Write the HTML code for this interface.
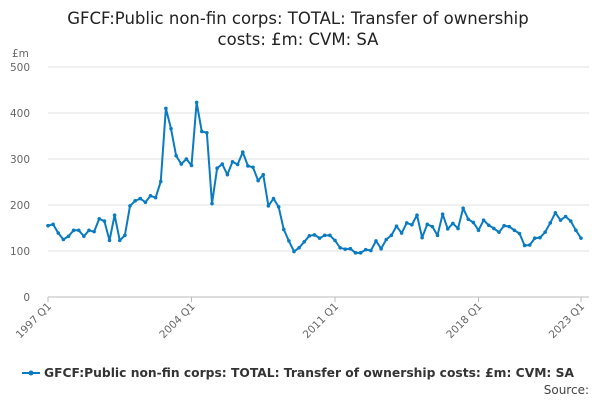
<!DOCTYPE html>
<html><head><meta charset="utf-8"><style>
body{margin:0;background:#fff;font-family:"DejaVu Sans","Liberation Sans",sans-serif}
svg text{font-family:"DejaVu Sans","Liberation Sans",sans-serif}
</style></head><body>
<svg id="chart" width="600" height="400">
<text x="298" y="24" text-anchor="middle" font-size="16.5" fill="#222">GFCF:Public non-fin corps: TOTAL: Transfer of ownership</text>
<text x="298" y="45" text-anchor="middle" font-size="16.5" fill="#222">costs: £m: CVM: SA</text>
<text x="12" y="57" font-size="10.5" fill="#666">£m</text>
<g id="grid"></g><g id="xaxis"></g><g id="series"></g>
<g>
<line x1="22" y1="373" x2="40" y2="373" stroke="#0a7bc1" stroke-width="2"/>
<circle cx="31" cy="373" r="2.5" fill="#0a7bc1"/>
<text x="44" y="377" font-size="12" font-weight="bold" fill="#333" textLength="530" lengthAdjust="spacingAndGlyphs">GFCF:Public non-fin corps: TOTAL: Transfer of ownership costs: £m: CVM: SA</text>
</g>
<text x="589" y="394" text-anchor="end" font-size="12" fill="#444">Source:</text>
</svg>
<script>
const values=[155,158,139,125,132,145,145,132,145,142,170,165,123,178,123,134,198,209,214,206,220,216,251,410,366,307,289,300,286,423,360,357,203,280,289,266,
294,288,315,285,282,253,266,198,214,196,147,122,99,107,120,133,135,128,134,134,123,107,104,105,96,96,103,101,122,105,125,134,154,139,161,
157,178,129,158,153,134,180,148,160,149,193,169,162,145,167,156,149,141,155,153,145,138,112,113,128,129,141,161,183,167,175,165,145,128];
const yTicks=[0,100,200,300,400,500];
const xLabels=["1997 Q1","2004 Q1","2011 Q1","2018 Q1","2023 Q1"];
const xLabelIdx=[0,28,56,84,104];
const NS="http://www.w3.org/2000/svg";
const x0=48,x1=581,yb=297,yt=67;
const xs=i=>x0+i*(x1-x0)/(values.length-1);
const ys=v=>yb-v*(yb-yt)/500;
function mk(t,a,p){const e=document.createElementNS(NS,t);for(const k in a)e.setAttribute(k,a[k]);p.appendChild(e);return e;}
const grid=document.getElementById('grid');
yTicks.forEach(v=>{
 const l=mk('line',{x1:x0,x2:x1+8,y1:ys(v),y2:ys(v),stroke:v===0?'#bbb':'#e0e0e0','stroke-width':1},grid);
 
 
 const t=mk('text',{x:30,y:ys(v)+4,'text-anchor':'end','font-size':10.5,fill:'#666'},grid);
 t.textContent=v;
 
 
});
const xa=document.getElementById('xaxis');
xLabelIdx.forEach((idx,k)=>{
 const x=xs(idx);
 const tk=mk('line',{x1:x,x2:x,y1:yb,y2:yb+5,stroke:'#bbb'},xa);
 
 
 const t=mk('text',{x:x+4,y:yb+10,'text-anchor':'end','font-size':10.5,fill:'#666',transform:`rotate(-45 ${x+4} ${yb+10})`},xa);
 t.textContent=xLabels[k];
 
 
});
const s=document.getElementById('series');
const p=mk('polyline',{points:values.map((v,i)=>xs(i)+','+ys(v)).join(' '),fill:'none',stroke:'#0a7bc1','stroke-width':2,'stroke-linejoin':'round'},s);


values.forEach((v,i)=>{
 const c=mk('circle',{cx:xs(i),cy:ys(v),r:1.8,fill:'#0a7bc1'},s);
 
 
});
</script>
</body></html>
